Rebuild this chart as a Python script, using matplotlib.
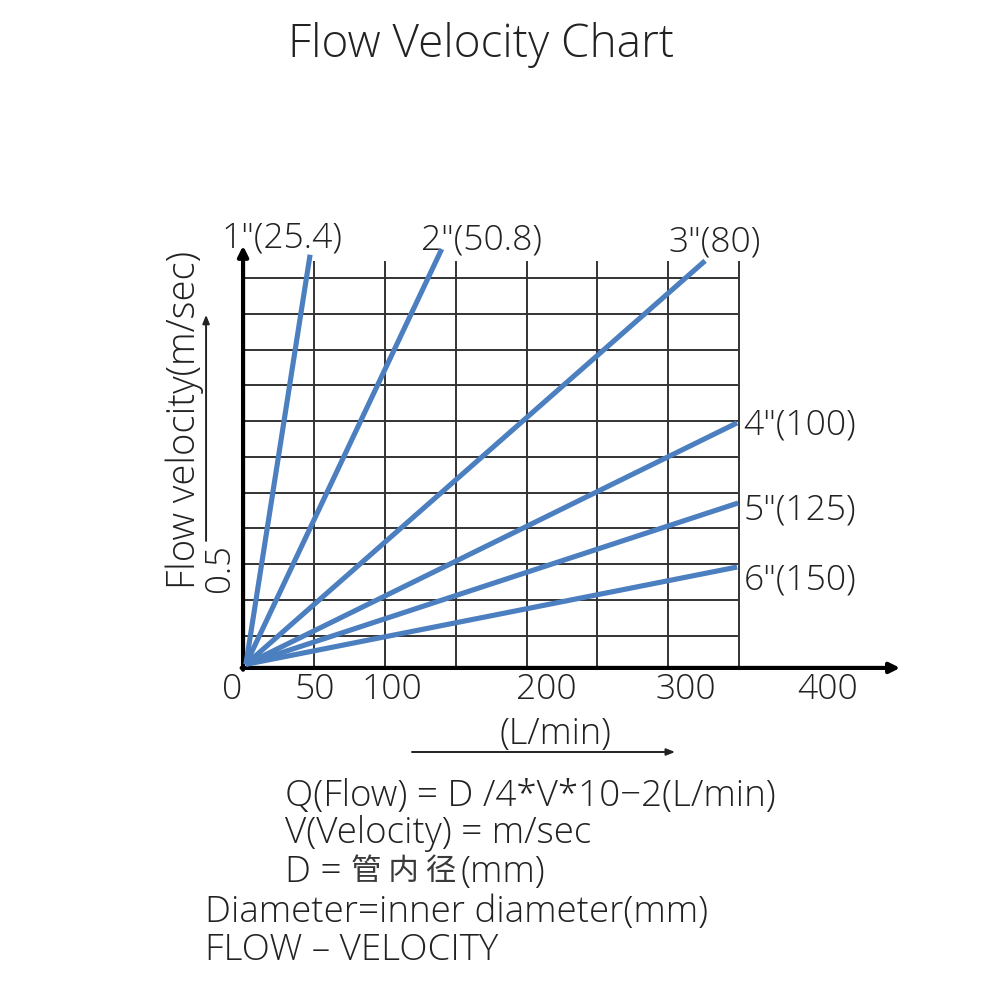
import matplotlib
matplotlib.use('Agg')
import matplotlib.pyplot as plt
import numpy as np

# 관경별 유속선 (시작점 -> 끝점)
pipe_labels = ['1"(25.4)', '2"(50.8)', '3"(80)', '4"(100)', '5"(125)', '6"(150)']
flow_end = [47.3, 140.2, 326.0, 348.6, 349.3, 348.6]
velocity_end = [11.55, 11.71, 11.38, 6.85, 4.61, 2.82]
flow_start = 2.0
velocity_start = 0.1

# 격자
x_grid = [50, 100, 150, 200, 250, 300, 350]
y_grid = [0.9, 1.9, 2.9, 3.9, 4.9, 5.9, 6.9, 7.9, 8.9, 9.9, 10.9]

# 눈금 라벨
tick_text = ['0', '50', '100', '200', '300', '400']
tick_pos = [-7.7, 50.3, 104.9, 214.0, 312.6, 412.6]

formula_lines = ['Q(Flow) = D /4*V*10\u22122(L/min)',
                 'V(Velocity) = m/sec',
                 None,
                 'Diameter=inner diameter(mm)',
                 'FLOW \u2013 VELOCITY']

plt.rcParams['font.family'] = ['Open Sans', 'Noto Sans CJK SC', 'DejaVu Sans']
plt.rcParams['font.weight'] = 'light'
txt = '#222222'
blue = '#4b7fc0'

fig = plt.figure(figsize=(10.01, 10.01), dpi=100)
ax = fig.add_axes([0, 0, 1, 1])
ax.set_xlim(-171.5, 534.8)
ax.set_ylim(-9.31, 18.67)
ax.axis('off')

# grid
for gx in x_grid:
    ax.plot([gx, gx], [0, 11.36], color='#333333', lw=1.4, zorder=1)
for gy in y_grid:
    ax.plot([0, 348.3], [gy, gy], color='#333333', lw=1.4, zorder=1)

# axes with arrows
ax.annotate('', xy=(0, 11.8), xytext=(0, -0.05),
            arrowprops=dict(arrowstyle='-|>,head_length=0.6,head_width=0.3',
                            color='black', lw=3, shrinkA=0, shrinkB=0))
ax.annotate('', xy=(463.6, 0), xytext=(-1, 0),
            arrowprops=dict(arrowstyle='-|>,head_length=0.6,head_width=0.3',
                            color='black', lw=3, shrinkA=0, shrinkB=0))

# flow-velocity lines
for xe, ye in zip(flow_end, velocity_end):
    ax.plot([flow_start, xe], [velocity_start, ye], color=blue, lw=3.7,
            solid_capstyle='butt', zorder=3)

# line labels
top_label_x = [27.4, 167.9, 333.0]
top_label_y = [12.0, 11.95, 11.9]
for i in range(3):
    ax.text(top_label_x[i], top_label_y[i], pipe_labels[i], fontsize=25.5,
            color=txt, ha='center', va='center')
side_label_y = [6.78, 4.4, 2.46]
for i in range(3, 6):
    ax.text(353, side_label_y[i - 3], pipe_labels[i], fontsize=25.5,
            color=txt, ha='left', va='center')

# x tick labels
for t, p in zip(tick_text, tick_pos):
    ax.text(p, -0.62, t, fontsize=25.5, color=txt, ha='center', va='center')

# axis labels
ax.text(220.1, -1.87, '(L/min)', fontsize=26, color=txt, ha='center', va='center')
ax.annotate('', xy=(304.8, -2.35), xytext=(119.2, -2.35),
            arrowprops=dict(arrowstyle='-|>,head_length=0.5,head_width=0.2',
                            color='#222222', lw=1.4, shrinkA=0, shrinkB=0))
ax.text(-41, 6.93, 'Flow velocity(m/sec)', fontsize=27.5, color=txt,
        rotation=90, ha='center', va='center')
ax.text(-16.5, 2.8, '0.5', fontsize=25, color=txt,
        rotation=90, ha='center', va='center')
ax.annotate('', xy=(-26.1, 9.87), xytext=(-26.1, 3.55),
            arrowprops=dict(arrowstyle='-|>,head_length=0.5,head_width=0.2',
                            color='#222222', lw=1.4, shrinkA=0, shrinkB=0))

# title
fig.text(481 / 1001, 1 - 45 / 1001, 'Flow Velocity Chart', fontsize=33,
         color=txt, ha='center', va='center')

# formulas
f_x = [285, 285, 285, 205, 205]
f_y = [796, 833, 872, 912, 950]
for s, fx, fy in zip(formula_lines, f_x, f_y):
    if s is None:
        continue
    fig.text(fx / 1001, 1 - fy / 1001, s, fontsize=26.5, color=txt,
             ha='left', va='center')

# D = 管内径(mm) 줄은 조각으로
fig.text(285 / 1001, 1 - 872 / 1001, 'D =', fontsize=26.5, color=txt,
         ha='left', va='center')
fig.text(351 / 1001, 1 - 872 / 1001, '管 内 径', fontsize=22,
         family='Noto Sans CJK SC', weight='light', color='#3a3a3a',
         ha='left', va='center')
fig.text(460 / 1001, 1 - 872 / 1001, '(mm)', fontsize=26.5, color=txt,
         ha='left', va='center')

fig.savefig('out.png', dpi=100)
